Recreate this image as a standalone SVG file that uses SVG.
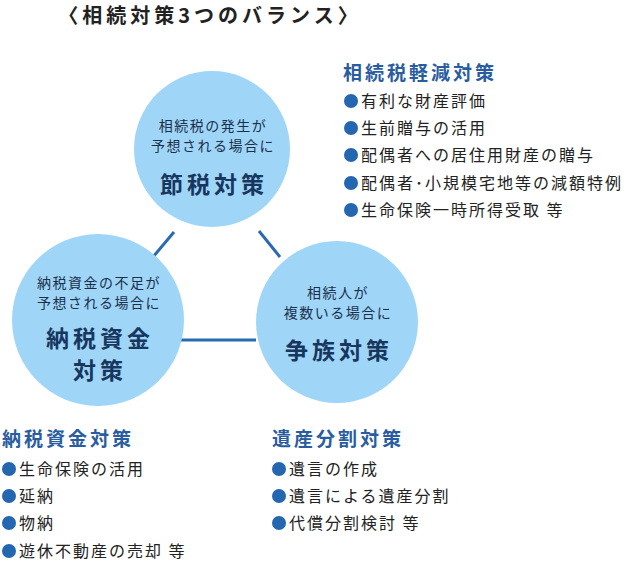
<svg xmlns="http://www.w3.org/2000/svg" width="636" height="563" viewBox="0 0 636 563">
<style>
.c{fill:#9fd6f8}
.t{font-family:"Noto Sans CJK JP",sans-serif;fill:#1b2f4a;text-anchor:middle}
.s{font-size:14px;letter-spacing:1.5px}
.b{font-size:23px;font-weight:bold;fill:#17375e;letter-spacing:4px}
.h{font-family:"Noto Sans CJK JP",sans-serif;font-size:19px;font-weight:bold;fill:#2a5d9f;letter-spacing:3px}
.l{font-family:"Noto Sans CJK JP",sans-serif;font-size:16px;fill:#222;letter-spacing:2px}
.d{fill:#2466b0}
.ln{stroke:#2a6ab0;stroke-width:3}
</style>
<text x="210" y="23" class="t" style="font-size:20px;font-weight:bold;fill:#222;letter-spacing:4px">〈相続対策3つのバランス〉</text>
<g id="connectors">
<line class="ln" x1="174" y1="232" x2="153" y2="257"/>
<line class="ln" x1="259" y1="231" x2="280" y2="257"/>
<line class="ln" x1="178" y1="340" x2="256" y2="340"/>
</g>
<g id="n1">
<circle class="c" cx="212" cy="149" r="78"/>
<text x="213" y="131" class="t s">相続税の発生が</text>
<text x="213" y="151" class="t s">予想される場合に</text>
<text x="214" y="193" class="t b">節税対策</text>
</g>
<g id="n2">
<circle class="c" cx="98" cy="320" r="86"/>
<text x="99" y="288" class="t s">納税資金の不足が</text>
<text x="99" y="308" class="t s">予想される場合に</text>
<text x="100" y="347" class="t b">納税資金</text>
<text x="100" y="379" class="t b">対策</text>
</g>
<g id="n3">
<circle class="c" cx="337" cy="322" r="81"/>
<text x="338" y="298" class="t s">相続人が</text>
<text x="338" y="318" class="t s">複数いる場合に</text>
<text x="339" y="359" class="t b">争族対策</text>
</g>
<g id="list1">
<text x="343" y="80" class="h">相続税軽減対策</text>
<g class="d"><circle cx="351" cy="101" r="7"/><circle cx="351" cy="128" r="7"/><circle cx="351" cy="155" r="7"/><circle cx="351" cy="183" r="7"/><circle cx="351" cy="210" r="7"/></g>
<text x="361" y="107" class="l">有利な財産評価</text>
<text x="361" y="134" class="l">生前贈与の活用</text>
<text x="361" y="161" class="l">配偶者への居住用財産の贈与</text>
<text x="361" y="189" class="l">配偶者･小規模宅地等の減額特例</text>
<text x="361" y="216" class="l">生命保険一時所得受取 等</text>
</g>
<g id="list2">
<text x="2" y="446" class="h">納税資金対策</text>
<g class="d"><circle cx="9" cy="469" r="7"/><circle cx="9" cy="496" r="7"/><circle cx="9" cy="523" r="7"/><circle cx="9" cy="551" r="7"/></g>
<text x="19" y="475" class="l">生命保険の活用</text>
<text x="19" y="502" class="l">延納</text>
<text x="19" y="529" class="l">物納</text>
<text x="19" y="557" class="l">遊休不動産の売却 等</text>
</g>
<g id="list3">
<text x="272" y="446" class="h">遺産分割対策</text>
<g class="d"><circle cx="279" cy="469" r="7"/><circle cx="279" cy="496" r="7"/><circle cx="279" cy="523" r="7"/></g>
<text x="289" y="475" class="l">遺言の作成</text>
<text x="289" y="502" class="l">遺言による遺産分割</text>
<text x="289" y="529" class="l">代償分割検討 等</text>
</g>
</svg>
